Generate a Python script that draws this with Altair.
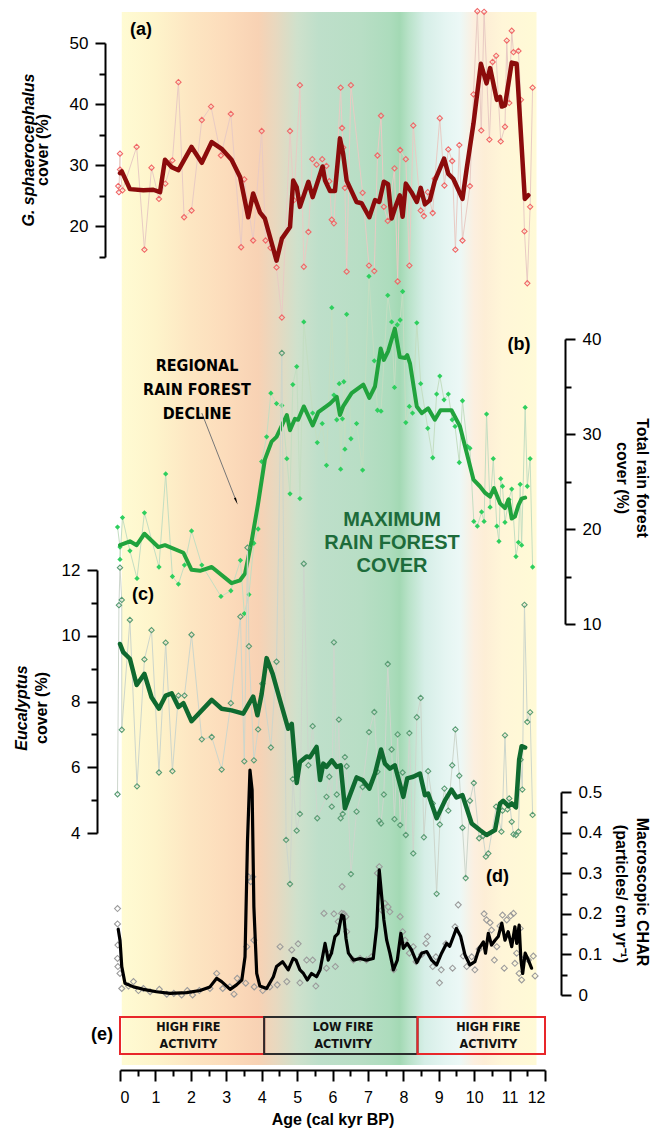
import altair as alt
import pandas as pd

# ---------------- (a) G. sphaerocephalus cover (%) ----------------
a_raw_age = [-0.05, -0.03, 0.0, 0.0, 0.07, 0.47, 0.69, 0.89, 1.10, 1.28, 1.48, 1.65, 1.81, 2.02, 2.31, 2.57,
             2.85, 3.13, 3.42, 3.51, 3.76, 4.00, 4.11, 4.25, 4.42, 4.57, 4.80, 4.91, 5.08, 5.19, 5.32, 5.43,
             5.55, 5.71, 5.83, 5.91, 5.98, 6.04, 6.23, 6.27, 6.30, 6.35, 6.40, 6.52, 6.85, 7.03, 7.18, 7.27,
             7.37, 7.45, 7.56, 7.75, 7.84, 7.91, 8.07, 8.17, 8.28, 8.49, 8.58, 8.69, 8.83, 8.89, 9.03, 9.16,
             9.27, 9.38, 9.47, 9.58, 9.67, 9.88, 9.98, 10.09, 10.20, 10.28, 10.43, 10.52, 10.62, 10.75, 10.87,
             10.92, 10.99, 11.06, 11.11, 11.25, 11.32, 11.42, 11.50, 11.58, 11.65]
a_raw_val = [26.6, 25.6, 31.9, 29.3, 25.9, 33.0, 16.2, 29.6, 24.5, 27.0, 30.8, 43.6, 21.5, 22.6, 37.4, 39.6,
             31.6, 38.4, 16.6, 27.7, 17.7, 35.6, 17.7, 16.5, 13.3, 5.1, 35.6, 24.3, 43.1, 13.4, 19.1, 31.0,
             30.1, 31.0, 29.9, 27.4, 21.1, 20.5, 42.7, 36.1, 32.9, 26.3, 12.6, 43.1, 25.5, 13.6, 12.7, 31.6,
             38.1, 23.2, 20.9, 29.5, 11.0, 32.5, 31.0, 13.6, 36.5, 22.6, 21.7, 25.6, 22.2, 27.8, 37.7, 26.7,
             32.6, 30.7, 16.2, 33.3, 17.7, 26.6, 41.6, 55.2, 35.7, 55.1, 34.2, 46.9, 47.9, 33.9, 36.3,
             50.4, 40.2, 52.0, 48.5, 48.7, 40.7, 19.2, 10.7, 23.2, 42.7]
a_smooth_age = [0.0, 0.05, 0.28, 0.66, 0.94, 1.13, 1.27, 1.46, 1.65, 2.02, 2.31, 2.59, 2.87, 3.15, 3.39, 3.62,
                3.76, 3.95, 4.09, 4.42, 4.57, 4.80, 4.89, 4.99, 5.08, 5.32, 5.44, 5.72, 5.79, 5.93, 6.07, 6.21,
                6.30, 6.40, 6.68, 6.82, 7.04, 7.20, 7.32, 7.45, 7.57, 7.67, 7.79, 7.90, 7.98, 8.07, 8.23, 8.38,
                8.49, 8.61, 8.75, 8.89, 9.15, 9.27, 9.41, 9.67, 9.79, 9.98, 10.19, 10.35, 10.45, 10.64, 10.73,
                10.78, 10.87, 11.06, 11.20, 11.43, 11.53]
a_smooth_val = [28.7, 29.0, 26.1, 25.9, 26.0, 25.6, 30.9, 29.7, 29.2, 33.0, 30.4, 33.8, 32.7, 30.9, 28.1, 21.5,
                25.4, 22.3, 21.3, 14.4, 18.0, 19.9, 27.5, 26.4, 23.2, 27.3, 24.8, 29.8, 27.5, 25.8, 25.8, 34.4,
                31.9, 27.5, 24.0, 23.8, 21.5, 24.3, 24.0, 27.3, 26.9, 21.3, 23.4, 25.1, 21.6, 27.0, 25.6, 24.0,
                26.3, 23.6, 24.3, 27.5, 31.1, 28.6, 27.8, 24.5, 29.5, 36.8, 46.6, 43.4, 45.9, 40.7, 41.2,
                39.6, 39.8, 46.8, 46.6, 24.5, 25.1]

# ---------------- (b) Total rain forest cover (%) ----------------
b_raw_age = [-0.07, 0.0, 0.0, 0.07, 0.28, 0.48, 0.69, 1.10, 1.29, 1.48, 1.65, 1.82, 2.02, 2.31, 2.85, 3.13,
             3.40, 3.51, 3.64, 3.78, 3.90, 4.00, 4.14, 4.26, 4.42, 4.57, 4.71, 4.80, 4.88, 4.99, 5.08, 5.19,
             5.44, 5.57, 5.71, 5.83, 5.98, 6.04, 6.12, 6.19, 6.23, 6.28, 6.32, 6.35, 6.40, 6.52, 6.68, 6.85,
             7.03, 7.18, 7.27, 7.37, 7.56, 7.67, 7.75, 7.83, 7.91, 7.98, 8.07, 8.17, 8.26, 8.38, 8.49, 8.69,
             8.83, 8.94, 9.03, 9.15, 9.27, 9.38, 9.46, 9.58, 9.67, 9.81, 9.88, 9.99, 10.09, 10.21, 10.28,
             10.35, 10.45, 10.54, 10.64, 10.70, 10.75, 10.80, 10.87, 10.98, 11.06, 11.18, 11.25, 11.30,
             11.34, 11.44, 11.50, 11.58, 11.65]
b_raw_val = [20.2, 18.1, 16.8, 21.2, 17.7, 14.8, 21.7, 16.0, 25.8, 15.0, 14.2, 16.2, 19.8, 16.2, 12.9, 13.5,
             16.7, 11.1, 13.1, 18.5, 20.0, 27.1, 29.7, 34.3, 33.2, 33.0, 27.4, 23.7, 35.2, 37.1, 23.2, 41.8,
             32.2, 29.1, 31.1, 26.7, 43.3, 34.1, 31.5, 35.3, 26.3, 31.6, 35.5, 28.4, 42.6, 29.5, 31.1, 26.2,
             46.6, 37.7, 32.5, 32.4, 44.6, 41.8, 34.9, 41.5, 42.0, 45.0, 31.2, 32.9, 32.2, 41.7, 35.3, 30.6,
             27.5, 34.2, 36.1, 33.6, 34.2, 31.5, 30.8, 27.0, 33.5, 28.7, 28.5, 20.8, 20.3, 21.8, 20.8,
             32.1, 22.3, 27.4, 20.3, 18.7, 25.3, 24.5, 20.7, 23.1, 24.2, 17.1, 18.6, 24.7,
             18.3, 32.8, 24.5, 27.4, 16.0]
b_smooth_age = [0.0, 0.28, 0.47, 0.69, 1.08, 1.27, 1.79, 2.02, 2.26, 2.59, 3.15, 3.39, 3.53, 3.72, 3.90, 4.09,
                4.28, 4.42, 4.71, 4.80, 4.94, 5.03, 5.19, 5.44, 5.60, 5.93, 6.12, 6.21, 6.30, 6.54, 6.87, 7.04,
                7.20, 7.36, 7.45, 7.57, 7.76, 7.90, 8.05, 8.11, 8.19, 8.38, 8.52, 8.70, 8.89, 9.05, 9.36, 9.60,
                9.79, 9.98, 10.16, 10.31, 10.45, 10.56, 10.73, 10.87, 10.97, 11.06, 11.15, 11.25, 11.34, 11.44]
b_smooth_val = [18.3, 18.7, 18.3, 19.5, 18.1, 18.3, 17.5, 15.7, 15.6, 16.0, 14.3, 14.6, 15.3, 18.8, 22.7, 27.3,
                29.2, 29.7, 32.0, 30.4, 31.6, 31.5, 32.9, 30.9, 32.3, 33.2, 33.9, 32.0, 32.9, 34.3, 35.2, 33.8,
                35.0, 39.0, 37.8, 38.7, 41.1, 38.1, 38.0, 38.3, 37.4, 32.9, 32.2, 32.7, 31.5, 32.5, 32.5, 30.8,
                28.0, 25.2, 24.5, 23.8, 23.4, 24.3, 22.7, 22.2, 23.1, 21.1, 21.3, 22.5, 23.2, 23.3]

# ---------------- (c) Eucalyptus cover (%) ----------------
c_raw_age = [-0.07, -0.03, 0.0, 0.05, 0.05, 0.28, 0.48, 0.69, 0.89, 1.10, 1.29, 1.48, 1.65, 1.82, 2.02, 2.31,
             2.59, 2.87, 3.13, 3.40, 3.51, 3.60, 3.64, 3.78, 3.90, 4.02, 4.26, 4.42, 4.57, 4.69, 4.80, 4.88,
             4.99, 5.08, 5.19, 5.32, 5.44, 5.57, 5.83, 5.91, 5.98, 6.04, 6.12, 6.18, 6.23, 6.29, 6.35, 6.40,
             6.52, 6.68, 6.85, 7.03, 7.18, 7.27, 7.32, 7.37, 7.45, 7.56, 7.67, 7.75, 7.84, 7.91, 7.98, 8.07,
             8.17, 8.28, 8.38, 8.49, 8.58, 8.70, 8.83, 8.94, 9.03, 9.16, 9.27, 9.38, 9.47, 9.58, 9.67, 9.76,
             9.88, 9.99, 10.14, 10.25, 10.33, 10.40, 10.62, 10.77, 10.80, 10.87, 10.94, 10.99, 11.06, 11.11,
             11.18, 11.25, 11.31, 11.36, 11.42, 11.50, 11.58, 11.65]
c_raw_val = [5.18, 10.93, 12.07, 11.09, 7.14, 10.48, 5.42, 9.28, 10.17, 5.84, 9.79, 5.88, 8.18, 8.18, 10.03, 6.85,
             6.92, 5.93, 7.95, 10.58, 6.18, 12.68, 9.68, 6.21, 7.15, 8.54, 6.60, 9.21, 18.6, 3.79, 2.45, 5.64,
             4.07, 4.58, 12.19, 6.06, 7.25, 4.45, 5.10, 5.71, 4.80, 9.80, 5.17, 7.45, 4.45, 4.58, 6.31, 6.03,
             2.75, 4.65, 5.40, 7.07, 7.68, 5.86, 4.37, 4.29, 5.17, 9.14, 6.54, 4.42, 7.00, 4.24, 5.84, 3.94,
             7.04, 3.38, 7.52, 8.11, 3.87, 5.88, 4.90, 2.15, 4.26, 5.35, 4.68, 6.06, 7.15, 5.74, 4.16, 2.63,
             4.98, 5.52, 3.84, 3.91, 3.28, 3.38, 4.80, 4.04, 4.68, 6.97, 4.72, 5.05, 4.34, 3.96,
             3.94, 4.04, 6.23, 5.32, 10.94, 7.38, 7.67, 4.55]
c_smooth_age = [0.0, 0.09, 0.28, 0.47, 0.69, 0.89, 1.10, 1.29, 1.46, 1.65, 1.79, 2.02, 2.59, 2.87, 3.15, 3.48,
                3.65, 3.76, 3.88, 4.00, 4.14, 4.31, 4.52, 4.75, 4.85, 4.99, 5.08, 5.27, 5.36, 5.55, 5.65, 5.74,
                5.83, 5.98, 6.12, 6.23, 6.35, 6.68, 6.85, 7.04, 7.20, 7.37, 7.48, 7.62, 7.76, 8.00, 8.11, 8.28,
                8.47, 8.61, 8.70, 8.94, 9.18, 9.36, 9.50, 9.67, 9.93, 10.16, 10.35, 10.59, 10.73, 10.82, 10.97,
                11.06, 11.18, 11.27, 11.34, 11.44]
c_smooth_val = [9.75, 9.50, 9.30, 8.50, 8.84, 8.13, 7.78, 8.18, 8.25, 7.83, 7.95, 7.40, 8.05, 7.78, 7.73, 7.63,
                7.95, 8.15, 7.58, 8.23, 9.32, 8.84, 8.03, 7.17, 7.32, 5.52, 6.16, 6.33, 6.30, 6.62, 5.61, 6.11,
                6.01, 6.21, 6.01, 6.06, 4.75, 5.69, 5.61, 5.35, 5.81, 6.54, 6.11, 5.96, 6.06, 5.10, 5.66, 5.71,
                5.81, 5.15, 5.20, 4.45, 5.00, 5.32, 5.08, 5.15, 4.29, 4.09, 3.94, 4.09, 4.90, 4.98, 4.82,
                4.90, 4.78, 6.23, 6.64, 6.60]

# ---------------- (d) Macroscopic CHAR ----------------
d_raw_age = [-0.07, -0.07, -0.06, -0.07, -0.06, 0.0, 0.05, 0.24, 0.38, 0.52, 0.66, 0.85, 1.11, 1.32, 1.52,
             1.74, 1.90, 2.05, 2.24, 2.54, 2.73, 2.90, 3.10, 3.22, 3.31, 3.55, 3.58, 3.63, 3.69, 3.75, 3.78,
             3.79, 4.03, 4.23, 4.44, 4.52, 4.71, 4.85, 5.03, 5.08, 5.27, 5.44, 5.53, 5.76, 5.83, 5.93, 6.04,
             6.08, 6.16, 6.26, 6.27, 6.32, 6.38, 6.40, 6.59, 6.78, 6.96, 7.10, 7.27, 7.32, 7.39, 7.48, 7.57,
             7.62, 7.73, 7.91, 7.98, 8.05, 8.17, 8.28, 8.36, 8.52, 8.64, 8.68, 8.83, 8.92, 9.02, 9.07, 9.20,
             9.39, 9.46, 9.55, 9.69, 9.79, 9.93, 10.02, 10.14, 10.28, 10.35, 10.45, 10.49, 10.57, 10.64,
             10.73, 10.80, 10.85, 10.92, 11.03, 11.11, 11.15, 11.20, 11.27, 11.30, 11.34, 11.44, 11.53,
             11.67, 11.72]
d_raw_val = [0.213, 0.175, 0.123, 0.090, 0.070, 0.053, 0.016, 0.022, 0.033, 0.011, 0.016, 0.008, 0.014, 0.002,
             0.004, 0.0, 0.011, 0.0, 0.011, 0.016, 0.053, 0.016, 0.020, 0.002, 0.041, 0.029, 0.119, 0.291,
             0.279, 0.291, 0.135, 0.020, 0.011, 0.020, 0.025, 0.119, 0.033, 0.111, 0.126, 0.030, 0.086, 0.086,
             0.022, 0.201, 0.066, 0.103, 0.200, 0.070, 0.181, 0.201, 0.267, 0.200, 0.193, 0.156, 0.086, 0.090,
             0.086, 0.094, 0.300, 0.316, 0.209, 0.226, 0.217, 0.205, 0.062, 0.193, 0.156, 0.135, 0.103, 0.119,
             0.082, 0.100, 0.127, 0.144, 0.070, 0.094, 0.030, 0.062, 0.126, 0.066, 0.168, 0.222, 0.096, 0.070,
             0.094, 0.062, 0.113, 0.200, 0.185, 0.178, 0.160, 0.086, 0.119, 0.170, 0.197, 0.066, 0.185, 0.195,
             0.201, 0.078, 0.103, 0.053, 0.164, 0.037, 0.093, 0.086, 0.096, 0.047]
d_smooth_age = [-0.05, 0.0, 0.05, 0.14, 0.38, 0.66, 1.03, 1.41, 1.88, 2.26, 2.54, 2.73, 2.87, 3.11, 3.29, 3.44,
                3.53, 3.60, 3.67, 3.73, 3.78, 3.86, 3.95, 4.14, 4.33, 4.42, 4.59, 4.75, 4.89, 4.97, 5.08, 5.18,
                5.29, 5.41, 5.55, 5.65, 5.79, 5.88, 5.97, 6.07, 6.16, 6.26, 6.32, 6.38, 6.45, 6.59, 6.78, 6.96,
                7.15, 7.25, 7.32, 7.39, 7.45, 7.53, 7.62, 7.72, 7.83, 7.93, 8.00, 8.11, 8.23, 8.38, 8.52, 8.66,
                8.80, 8.94, 9.08, 9.22, 9.31, 9.50, 9.62, 9.74, 9.88, 10.02, 10.14, 10.26, 10.32, 10.40, 10.49,
                10.59, 10.68, 10.78, 10.87, 10.96, 11.06, 11.15, 11.20, 11.27, 11.32, 11.37, 11.44, 11.53, 11.62]
d_smooth_val = [0.162, 0.135, 0.070, 0.029, 0.020, 0.014, 0.008, 0.004, 0.006, 0.011, 0.020, 0.041, 0.033, 0.014,
                0.025, 0.037, 0.094, 0.380, 0.554, 0.505, 0.217, 0.053, 0.022, 0.016, 0.045, 0.070, 0.082, 0.062,
                0.090, 0.086, 0.062, 0.053, 0.037, 0.053, 0.045, 0.062, 0.127, 0.086, 0.103, 0.144, 0.152, 0.197,
                0.193, 0.140, 0.103, 0.086, 0.090, 0.086, 0.090, 0.168, 0.308, 0.242, 0.185, 0.135, 0.103, 0.062,
                0.086, 0.152, 0.115, 0.127, 0.111, 0.080, 0.103, 0.107, 0.086, 0.074, 0.103, 0.127, 0.120, 0.164,
                0.144, 0.099, 0.074, 0.082, 0.115, 0.131, 0.103, 0.152, 0.123, 0.135, 0.144, 0.177, 0.135, 0.156,
                0.119, 0.168, 0.127, 0.172, 0.086, 0.053, 0.103, 0.086, 0.066]

# ---------------- (e) fire activity phases ----------------
fire_start = [0.0, 4.07, 8.4]
fire_end = [4.07, 8.4, 12.0]
fire_label = ["HIGH FIRE\nACTIVITY", "LOW FIRE\nACTIVITY", "HIGH FIRE\nACTIVITY"]
fire_text_age = [1.93, 6.3, 10.4]
fire_stroke = ["#e8262a", "#2b2b2b", "#e8262a"]

# ---------------- background colour band ----------------
bg_start, bg_end = 0.05, 11.76
bg_stop_age = [0.05, 1.0, 2.0, 3.0, 3.9, 4.4, 5.0, 5.6, 6.8, 7.6, 7.9, 8.15, 8.6, 9.2, 9.6, 10.0, 10.3, 10.8, 11.76]
bg_stop_color = ["#fffbd3", "#fef4cb", "#fde6c2", "#fcdcbb", "#f8d2b4", "#e8d8bf", "#cfe1cc", "#bedfca",
                 "#b8dec5", "#addcbd", "#a3d9b4", "#b8e2c8", "#d6eee7", "#e5f5f2", "#ecf8f6", "#fcefdf",
                 "#fdeed6", "#fff6d8", "#fffad6"]

# x-axis ticks
x_ticks = [i * 0.5 for i in range(25)]

FONT = "Liberation Sans"
NARROW = "DejaVu Sans Condensed, Liberation Sans Narrow, Liberation Sans, sans-serif"

XS = alt.Scale(domain=[0, 12], nice=False, zero=False)


def cond_ticks(step, major=10, minor=6):
    return {"condition": {"test": f"round(datum.value/{step}) % 2 == 0", "value": major}, "value": minor}


X_AXIS = alt.Axis(values=x_ticks, title="Age (cal kyr BP)", titleFont=FONT, titleFontSize=16,
                  titleFontWeight="bold", titleColor="black", titlePadding=6, labelFontSize=16,
                  labelPadding=8, tickSize=cond_ticks(0.5, 11, 6),
                  labelExpr="round(datum.value/0.5) % 2 == 0 ? format(datum.value, '.0f') : ''")


def X(field):
    return alt.X(field, type="quantitative", scale=XS, axis=X_AXIS)


def yaxis(values, step, orient, offset, fmt):
    return alt.Axis(values=values, orient=orient, offset=offset, title=None,
                    tickSize=cond_ticks(step),
                    labelExpr=f"round(datum.value/{step}) % 2 == 0 ? format(datum.value, '{fmt}') : ''")


def panel(raw_age, raw_val, sm_age, sm_val, scale, axis, pt_color, pt_filled, pt_size, raw_color,
          line_color, line_width, extra=()):
    raw = pd.DataFrame({"age": raw_age, "val": raw_val})
    sm = pd.DataFrame({"age": sm_age, "val": sm_val})
    Y = alt.Y("val", type="quantitative", scale=scale, axis=axis)
    layers = []
    if raw_color:
        layers.append(alt.Chart(raw).mark_line(color=raw_color, strokeWidth=1).encode(x=X("age"), y=Y))
    layers.append(alt.Chart(raw).mark_point(shape="diamond", filled=pt_filled, color=pt_color, size=pt_size,
                                            opacity=1, strokeWidth=1.1).encode(x=X("age"), y=Y))
    layers.extend(extra)
    layers.append(alt.Chart(sm).mark_line(color=line_color, strokeWidth=line_width, strokeJoin="round",
                                          strokeCap="round").encode(x=X("age"), y=Y))
    return alt.layer(*layers)


# background gradient
bg = alt.Chart(pd.DataFrame({"x0": [bg_start], "x1": [bg_end]})).mark_rect(
    color=alt.Gradient(gradient="linear", x1=0, x2=1, y1=0, y2=0,
                       stops=[alt.GradientStop(offset=(a - bg_start) / (bg_end - bg_start), color=c)
                              for a, c in zip(bg_stop_age, bg_stop_color)])
).encode(x=X("x0"), x2="x1", y=alt.value(12), y2=alt.value(1065))

fire_df = pd.DataFrame({"s": fire_start, "e": fire_end, "label": fire_label, "tx": fire_text_age,
                        "col": fire_stroke})
boxes = alt.Chart(fire_df).mark_rect(fillOpacity=0, strokeWidth=2).encode(
    x=X("s"), x2="e", y=alt.value(1017), y2=alt.value(1054),
    stroke=alt.Stroke("col", type="nominal", scale=None))
box_text = alt.Chart(fire_df).mark_text(font=NARROW, fontWeight="bold", fontSize=12.5, lineBreak="\n",
                                        lineHeight=17, color="#111", baseline="middle").encode(
    x=X("tx"), y=alt.value(1027), text="label:N")

# panels
scale_a = alt.Scale(domain=[15, 50], range=[257, 43], nice=False, zero=False)
scale_b = alt.Scale(domain=[10, 40], range=[624, 339], nice=False, zero=False)
scale_c = alt.Scale(domain=[4, 12], range=[833, 570], nice=False, zero=False)
scale_d = alt.Scale(domain=[0, 0.5], range=[995, 792], nice=False, zero=False)

pa = panel(a_raw_age, a_raw_val, a_smooth_age, a_smooth_val, scale_a,
           yaxis(list(range(15, 51, 5)), 5, "left", 15, ".0f"),
           "#f06868", False, 28, "#e9cbc4", "#8b0b0b", 4.5)

arrow_df = pd.DataFrame({"age": [2.31], "val": [32.2], "age2": [3.27], "val2": [23.05]})
Yb = alt.Y("val", type="quantitative", scale=scale_b,
           axis=yaxis(list(range(10, 41, 5)), 5, "right", 20, ".0f"))
arrow_line = alt.Chart(arrow_df).mark_rule(color="#777", strokeWidth=1).encode(
    x=X("age"), y=Yb, x2="age2", y2="val2")
arrow_head = alt.Chart(arrow_df).mark_point(shape="wedge", filled=True, color="black", size=70, angle=158,
                                            opacity=1).encode(x=X("age2"), y=alt.Y("val2", type="quantitative",
                                                                                      scale=scale_b))

pb = panel(b_raw_age, b_raw_val, b_smooth_age, b_smooth_val, scale_b,
           yaxis(list(range(10, 41, 5)), 5, "right", 20, ".0f"),
           "#2ecf5e", True, 28, "#c4dec2", "#21a33d", 4.0, extra=(arrow_line, arrow_head))

pc = panel(c_raw_age, c_raw_val, c_smooth_age, c_smooth_val, scale_c,
           yaxis(list(range(4, 13, 1)), 1, "left", 23, ".0f"),
           "#5a9c74", False, 28, "#cdd6cc", "#0f6a2f", 4.5)

pd_ = panel(d_raw_age, d_raw_val, d_smooth_age, d_smooth_val, scale_d,
            yaxis([round(i * 0.05, 2) for i in range(11)], 0.05, "right", 16, ".1~f"),
            "#9c9c9c", False, 36, None, "#000000", 3.2)


def label(text, x, y, size=16, weight="bold", style="normal", angle=0, align="center", color="black",
          font=FONT, line_height=None):
    kw = dict(text=text, font=font, fontSize=size, fontWeight=weight, fontStyle=style, angle=angle,
              align=align, baseline="middle", color=color)
    if line_height:
        kw["lineHeight"] = line_height
    return alt.Chart(pd.DataFrame({"k": [0]})).mark_text(**kw).encode(x=alt.value(x), y=alt.value(y))


# plot origin is at image (120, 0)
texts = [
    label("(a)", 10, 30, size=18, align="left"),
    label("(b)", 399, 345, size=18),
    label("(c)", 12, 595, size=18, align="left"),
    label("(d)", 366, 877, size=18, align="left"),
    label("(e)", -7, 1035, size=18, align="right"),
    label(["REGIONAL", "RAIN FOREST", "DECLINE"], 77, 366, size=16, font=NARROW, line_height=24),
    label(["MAXIMUM", "RAIN FOREST", "COVER"], 272, 520, size=20, color="#1d6b3a", line_height=23),
    label("G. sphaerocephalus", -91, 150, style="italic", angle=270),
    label("cover (%)", -77, 150, angle=270),
    label("Eucalyptus", -98, 708, style="italic", angle=270),
    label("cover (%)", -78, 708, angle=270),
    label("Total rain forest", 522, 478, angle=90),
    label("cover (%)", 502, 478, angle=90),
    label("Macroscopic CHAR", 522, 892, angle=90),
    label("(particles/ cm yr\u207b\u00b9)", 501, 894, angle=90),
]

chart = alt.layer(bg, boxes, box_text, pa, pb, pc, pd_, *texts).resolve_scale(
    y="independent").resolve_axis(y="independent").properties(
    width=425, height=1070,
    padding={"left": 120, "top": 0, "right": 107, "bottom": 62},
    autosize=alt.AutoSizeParams(type="none"),
    background="white",
).configure_view(strokeWidth=0).configure_axis(
    grid=False, domainColor="black", domainWidth=2, tickColor="black", tickWidth=2,
    labelFont=FONT, labelFontSize=17, labelColor="black", labelPadding=7,
)

chart.save("out.html", embed_options={"renderer": "svg", "actions": False})
